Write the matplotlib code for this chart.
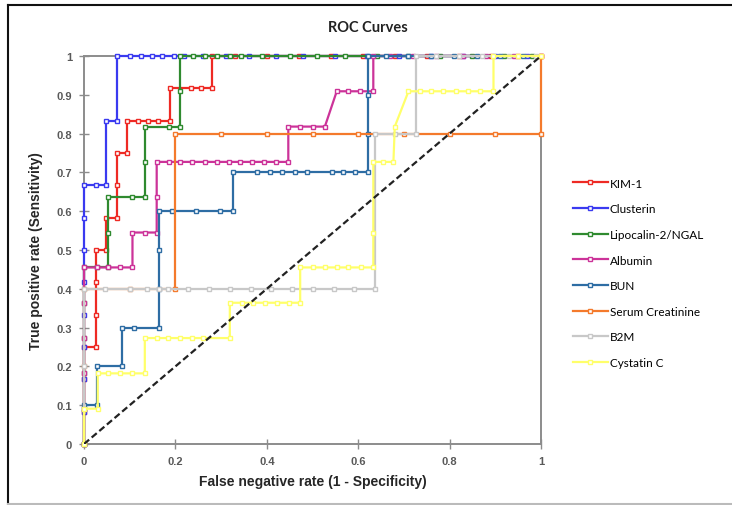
import matplotlib
matplotlib.use("Agg")
import matplotlib.pyplot as plt
from matplotlib.lines import Line2D

# --- datos ---
series = ["KIM-1", "Clusterin", "Lipocalin-2/NGAL", "Albumin", "BUN",
          "Serum Creatinine", "B2M", "Cystatin C"]
colores = ["#EE2A24", "#3A3AF0", "#2F8A2F", "#CC3399", "#2E6DA4",
           "#F47A2C", "#C8C8C8", "#FFFF6A"]

kim1_x = [0, 0, 0, 0, 0.026, 0.026, 0.026, 0.026, 0.047, 0.047, 0.073, 0.073, 0.073,
          0.093, 0.093, 0.118, 0.140, 0.162, 0.188, 0.188, 0.234, 0.257, 0.281, 0.281,
          0.33, 0.40, 0.47, 0.54, 0.61, 0.68, 0.75, 0.82, 0.89, 0.95, 1.0]
kim1_y = [0, 0.083, 0.167, 0.25, 0.25, 0.333, 0.417, 0.5, 0.5, 0.583, 0.583, 0.667, 0.75,
          0.75, 0.833, 0.833, 0.833, 0.833, 0.833, 0.917, 0.917, 0.917, 0.917, 1,
          1, 1, 1, 1, 1, 1, 1, 1, 1, 1, 1]

clus_x = [0, 0, 0, 0, 0, 0, 0, 0, 0, 0.026, 0.049, 0.049, 0.073, 0.073,
          0.100, 0.124, 0.148, 0.171, 0.197, 0.219, 0.26, 0.31, 0.36, 0.42, 0.48,
          0.55, 0.62, 0.69, 0.76, 0.83, 0.90, 0.97]
clus_y = [0, 0.083, 0.167, 0.25, 0.333, 0.417, 0.5, 0.583, 0.667, 0.667, 0.667, 0.833,
          0.833, 1, 1, 1, 1, 1, 1, 1, 1, 1, 1, 1, 1, 1, 1, 1, 1, 1, 1, 1]

lipo_x = [0, 0, 0, 0, 0, 0, 0.028, 0.053, 0.053, 0.053, 0.106, 0.133, 0.133, 0.133,
          0.186, 0.211, 0.211, 0.211, 0.238, 0.265, 0.290, 0.319, 0.343, 0.39, 0.45,
          0.51, 0.57, 0.64, 0.71, 0.78, 0.85, 0.92, 0.98]
lipo_y = [0, 0.091, 0.182, 0.273, 0.364, 0.455, 0.455, 0.455, 0.545, 0.636, 0.636, 0.636,
          0.727, 0.818, 0.818, 0.818, 0.909, 1, 1, 1, 1, 1, 1, 1, 1,
          1, 1, 1, 1, 1, 1, 1, 1]

albu_x = [0, 0, 0, 0, 0, 0, 0.028, 0.053, 0.079, 0.106, 0.106, 0.133, 0.159, 0.159, 0.159,
          0.186, 0.211, 0.237, 0.265, 0.290, 0.317, 0.341, 0.368, 0.394, 0.421, 0.447,
          0.447, 0.473, 0.500, 0.527, 0.553, 0.578, 0.604, 0.633, 0.633,
          0.67, 0.72, 0.77, 0.83, 0.88, 0.94, 1.0]
albu_y = [0, 0.091, 0.182, 0.273, 0.364, 0.455, 0.455, 0.455, 0.455, 0.455, 0.545, 0.545,
          0.545, 0.636, 0.727, 0.727, 0.727, 0.727, 0.727, 0.727, 0.727, 0.727, 0.727,
          0.727, 0.727, 0.727, 0.818, 0.818, 0.818, 0.818, 0.909, 0.909, 0.909, 0.909, 1,
          1, 1, 1, 1, 1, 1, 1]

bun_x = [0, 0, 0.028, 0.028, 0.082, 0.082, 0.110, 0.163, 0.163, 0.163, 0.163, 0.192,
         0.245, 0.298, 0.325, 0.325, 0.379, 0.407, 0.434, 0.462, 0.487, 0.542, 0.567,
         0.594, 0.622, 0.622, 0.622, 0.622, 0.66, 0.71, 0.76, 0.81, 0.86, 0.91, 0.96]
bun_y = [0, 0.1, 0.1, 0.2, 0.2, 0.3, 0.3, 0.3, 0.4, 0.5, 0.6, 0.6, 0.6, 0.6, 0.6, 0.7,
         0.7, 0.7, 0.7, 0.7, 0.7, 0.7, 0.7, 0.7, 0.7, 0.8, 0.9, 1, 1, 1, 1, 1, 1, 1, 1]

crea_x = [0, 0, 0, 0.1, 0.2, 0.2, 0.3, 0.4, 0.5, 0.6, 0.7, 0.8, 0.9, 1.0, 1.0]
crea_y = [0, 0.2, 0.4, 0.4, 0.4, 0.8, 0.8, 0.8, 0.8, 0.8, 0.8, 0.8, 0.8, 0.8, 1]

b2m_x = [0, 0, 0, 0.046, 0.100, 0.137, 0.164, 0.184, 0.228, 0.274, 0.319, 0.365, 0.409,
         0.454, 0.500, 0.546, 0.591, 0.637, 0.637, 0.681, 0.727, 0.727, 0.77, 0.82,
         0.87, 0.93, 0.99]
b2m_y = [0, 0.2, 0.4, 0.4, 0.4, 0.4, 0.4, 0.4, 0.4, 0.4, 0.4, 0.4, 0.4, 0.4, 0.4, 0.4,
         0.4, 0.4, 0.8, 0.8, 0.8, 1, 1, 1, 1, 1, 1]

cyst_x = [0, 0, 0.030, 0.030, 0.053, 0.079, 0.105, 0.133, 0.133, 0.159, 0.184, 0.210,
          0.236, 0.261, 0.319, 0.319, 0.345, 0.370, 0.396, 0.423, 0.449, 0.473, 0.473,
          0.502, 0.527, 0.553, 0.578, 0.605, 0.633, 0.633, 0.633, 0.655, 0.677, 0.680,
          0.710, 0.735, 0.760, 0.786, 0.814, 0.841, 0.867, 0.896, 0.896, 0.95, 1.0]
cyst_y = [0, 0.091, 0.091, 0.182, 0.182, 0.182, 0.182, 0.182, 0.273, 0.273, 0.273, 0.273,
          0.273, 0.273, 0.273, 0.364, 0.364, 0.364, 0.364, 0.364, 0.364, 0.364, 0.455,
          0.455, 0.455, 0.455, 0.455, 0.455, 0.455, 0.545, 0.727, 0.727, 0.727, 0.818,
          0.909, 0.909, 0.909, 0.909, 0.909, 0.909, 0.909, 0.909, 1, 1, 1]

datos = [(kim1_x, kim1_y), (clus_x, clus_y), (lipo_x, lipo_y), (albu_x, albu_y),
         (bun_x, bun_y), (crea_x, crea_y), (b2m_x, b2m_y), (cyst_x, cyst_y)]

# --- figura ---
fig = plt.figure(figsize=(7.32, 5.06), dpi=100)
ax = fig.add_axes([0.1148, 0.1206, 0.6243, 0.7668])

gris = "#8C8C8C"
for (xs, ys), nombre, c in zip(datos, series, colores):
    ax.plot(xs, ys, color=c, lw=1.6, marker="s", markersize=3.2,
            markerfacecolor="white", markeredgecolor=c, markeredgewidth=1.0,
            label=nombre, clip_on=False, zorder=3)

ax.plot([0, 1], [0, 1], color="#222222", lw=1.6, ls=(0, (3, 1.5)), zorder=5)

ax.set_xlim(0, 1)
ax.set_ylim(0, 1)
ax.set_xticks([0, 0.2, 0.4, 0.6, 0.8, 1])
ax.set_xticklabels(["0", "0.2", "0.4", "0.6", "0.8", "1"])
ax.set_yticks([i / 10 for i in range(11)])
ax.set_yticklabels(["0", "0.1", "0.2", "0.3", "0.4", "0.5", "0.6", "0.7", "0.8", "0.9", "1"])
for s in ax.spines.values():
    s.set_color(gris)
    s.set_linewidth(1.4)
ax.tick_params(direction="inout", length=7, width=1, color=gris,
               labelcolor="#595959", labelsize=8, pad=5)
for t in ax.get_xticklabels() + ax.get_yticklabels():
    t.set_fontweight("bold")
    t.set_family("Liberation Sans")

ax.set_xlabel("False negative rate (1 - Specificity)", fontsize=10, fontweight="bold",
              family="Liberation Sans", color="#262626", labelpad=6)
ax.set_ylabel("True positive rate (Sensitivity)", fontsize=10, fontweight="bold",
              family="Liberation Sans", color="#262626", labelpad=10)

fig.text(0.503, 1 - 28 / 506, "ROC Curves", ha="center", va="center",
         fontsize=10.5, fontweight="bold", family="Lato", color="#222222")

leg = ax.legend(loc="upper left", frameon=False,
                handlelength=3.0, handletextpad=0.15, labelspacing=1.24,
                prop={"family": "Lato", "size": 8.5})
leg.set_bbox_to_anchor((562 / 732, 1 - 168 / 506), transform=fig.transFigure)

# borde de la figura
fig.add_artist(Line2D([8 / 732, 8 / 732], [1 - 6 / 506, 0], transform=fig.transFigure,
                      color="#111111", lw=1.5))
fig.add_artist(Line2D([8 / 732, 1], [1 - 6 / 506, 1 - 6 / 506], transform=fig.transFigure,
                      color="#111111", lw=1.5))
fig.add_artist(Line2D([8 / 732, 1], [1 - 505 / 506, 1 - 505 / 506], transform=fig.transFigure,
                      color="#BBBBBB", lw=1.5))

fig.savefig("out.png", dpi=100)
